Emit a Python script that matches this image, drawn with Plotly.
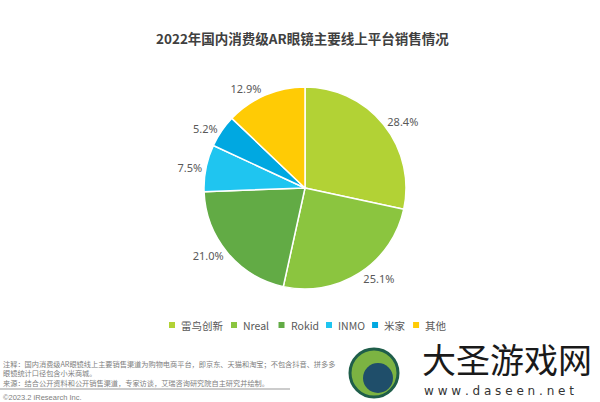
import plotly.graph_objects as go

labels = ["雷鸟创新", "Nreal", "Rokid", "INMO", "米家", "其他"]
values = [28.4, 25.1, 21.0, 7.5, 5.2, 12.9]
colors = ["#B2D235", "#8BC53F", "#62AB45", "#1FC5F0", "#00A8E1", "#FFCB05"]

title = "2022年国内消费级AR眼镜主要线上平台销售情况"
note1 = "注释：国内消费级AR眼镜线上主要销售渠道为购物电商平台，即京东、天猫和淘宝；不包含抖音、拼多多"
note2 = "眼镜统计口径包含小米商城。"
note3 = "来源：结合公开资料和公开销售渠道，专家访谈，艾瑞咨询研究院自主研究并绘制。"
copyright_txt = "©2023.2 iResearch Inc."

W, H = 600, 402
cx, cy, r = 305, 188, 101

fig = go.Figure(go.Pie(
    labels=labels,
    values=values,
    sort=False,
    direction="clockwise",
    rotation=0,
    marker=dict(colors=colors, line=dict(color="white", width=1.5)),
    texttemplate="%{value:.1f}%",
    textposition="outside",
    textfont=dict(size=11, color="#595959", family="Noto Sans"),
    domain=dict(x=[(cx - r) / W, (cx + r) / W], y=[(H - cy - r) / H, (H - cy + r) / H]),
    hoverinfo="label+value",
    showlegend=False,
))


def text_width(s, fs):
    w = 0.0
    for ch in s:
        if ord(ch) > 0x2E80:
            w += fs
        elif ch.isupper():
            w += fs * 0.62
        else:
            w += fs * 0.5
    return w


# compact legend row (small squares + labels), built from the data arrays
leg_fs = 10.5
leg_y = 325
shapes = []
annotations = []
x = 169
for lab, col in zip(labels, colors):
    shapes.append(dict(type="rect", xref="paper", yref="paper",
                       x0=x / W, x1=(x + 6) / W, y0=(H - leg_y - 3) / H, y1=(H - leg_y + 3) / H,
                       fillcolor=col, line=dict(width=0)))
    annotations.append(dict(text=lab, x=(x + 10) / W, y=(H - leg_y) / H, xref="paper", yref="paper",
                            showarrow=False, xanchor="left", yanchor="middle",
                            font=dict(size=leg_fs, color="#595959", family="Noto Sans CJK SC")))
    x += 10 + text_width(lab, leg_fs) + 10

annotations += [
    dict(text="<b>" + title + "</b>", x=302 / W, y=(H - 38) / H, xref="paper", yref="paper",
         showarrow=False, font=dict(size=13.5, color="#404040", family="Noto Sans CJK SC"),
         xanchor="center", yanchor="middle"),
    dict(text=note1 + "<br>" + note2 + "<br>" + note3, x=1 / W, y=(H - 357) / H, xref="paper", yref="paper",
         showarrow=False, align="left",
         font=dict(size=7.2, color="#808080", family="Noto Sans CJK SC"), xanchor="left", yanchor="top"),
    dict(text=copyright_txt, x=1 / W, y=(H - 397) / H, xref="paper", yref="paper", showarrow=False,
         font=dict(size=7.5, color="#808080", family="Liberation Sans"), xanchor="left", yanchor="middle"),
    dict(text="大圣游戏网", x=420 / W, y=(H - 358) / H, xref="paper", yref="paper", showarrow=False,
         font=dict(size=34, color="#1a1a1a", family="Noto Sans CJK SC"), xanchor="left", yanchor="middle"),
    dict(text="w w w . d a s e e n . n e t", x=422 / W, y=(H - 391) / H, xref="paper", yref="paper",
         showarrow=False, font=dict(size=12, color="#333333", family="DejaVu Sans"),
         xanchor="left", yanchor="middle"),
]

shapes += [
    dict(type="line", xref="paper", yref="paper", x0=0, x1=290 / W, y0=(H - 389) / H, y1=(H - 389) / H,
         line=dict(color="#999999", width=1)),
    dict(type="circle", xref="paper", yref="paper", x0=350 / W, x1=398 / W, y0=(H - 397) / H, y1=(H - 349) / H,
         line=dict(color="#1f5e4a", width=3), fillcolor="#7cb342"),
    dict(type="circle", xref="paper", yref="paper", x0=363 / W, x1=393 / W, y0=(H - 393) / H, y1=(H - 363) / H,
         line=dict(width=0), fillcolor="#1f4e6a"),
]

fig.update_layout(
    width=W, height=H,
    margin=dict(l=0, r=0, t=0, b=0),
    paper_bgcolor="white",
    plot_bgcolor="white",
    font=dict(family="Noto Sans CJK SC", color="#595959"),
    showlegend=False,
    annotations=annotations,
    shapes=shapes,
)

fig.write_html("out.html")
